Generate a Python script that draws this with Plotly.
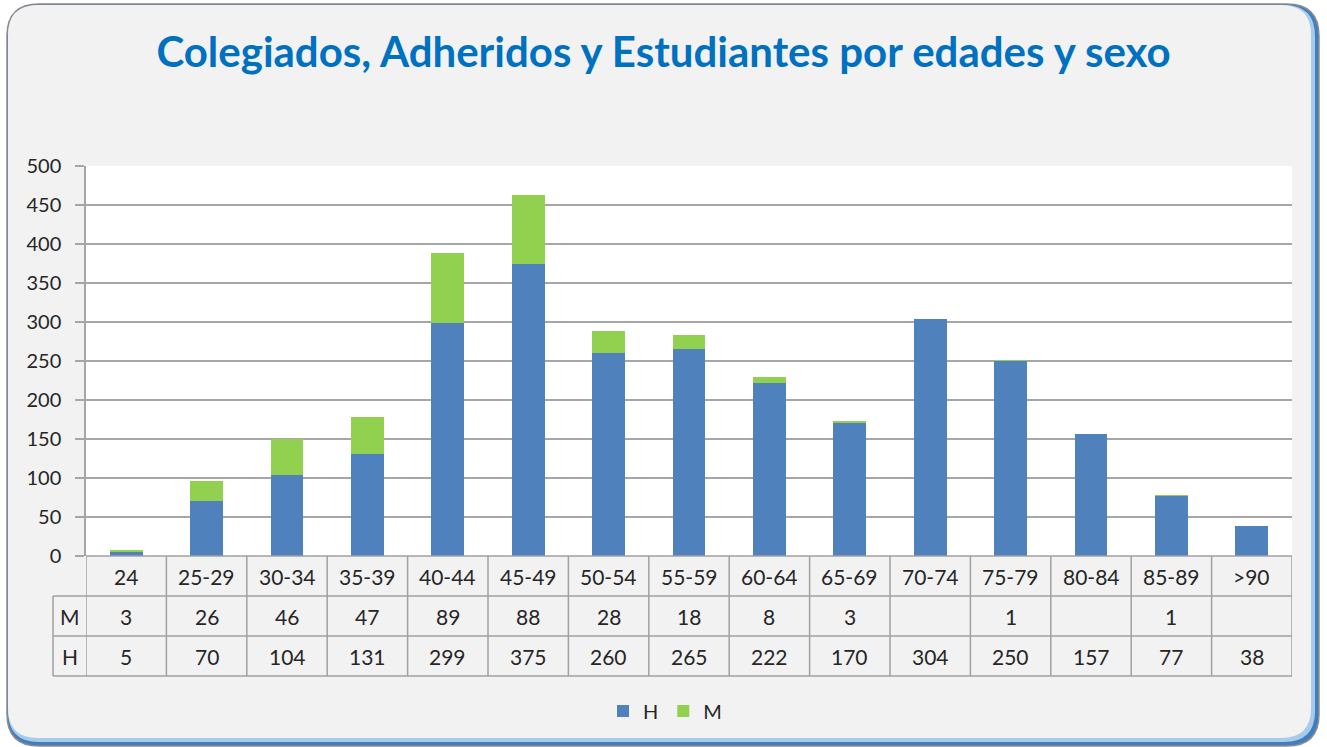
import plotly.graph_objects as go

categories = ["24", "25-29", "30-34", "35-39", "40-44", "45-49", "50-54", "55-59",
              "60-64", "65-69", "70-74", "75-79", "80-84", "85-89", ">90"]
H_values = [5, 70, 104, 131, 299, 375, 260, 265, 222, 170, 304, 250, 157, 77, 38]
M_values = [3, 26, 46, 47, 89, 88, 28, 18, 8, 3, None, 1, None, 1, None]
y_ticks = [0, 50, 100, 150, 200, 250, 300, 350, 400, 450, 500]
title_text = "Colegiados, Adheridos y Estudiantes por edades y sexo"

W, HGT = 1327, 747
L, R, T, B = 86, 1292, 166, 556

def X(p):
    return (p - L) / (R - L)

def Y(p):
    return (B - p) / (B - T)

def rrect(x0, y0, x1, y1, r):
    return (f"M {X(x0+r)},{Y(y0)} L {X(x1-r)},{Y(y0)} Q {X(x1)},{Y(y0)} {X(x1)},{Y(y0+r)} "
            f"L {X(x1)},{Y(y1-r)} Q {X(x1)},{Y(y1)} {X(x1-r)},{Y(y1)} "
            f"L {X(x0+r)},{Y(y1)} Q {X(x0)},{Y(y1)} {X(x0)},{Y(y1-r)} "
            f"L {X(x0)},{Y(y0+r)} Q {X(x0)},{Y(y0)} {X(x0+r)},{Y(y0)} Z")

BLUE = "#4F81BD"
GREEN = "#92D050"
TXT = "#262626"
GRID = "#A6A6A6"
FONT = "Lato"

fig = go.Figure()
fig.add_trace(go.Bar(name="H", x=categories, y=H_values, marker_color=BLUE,
                     marker_line_width=0))
fig.add_trace(go.Bar(name="M", x=categories, y=M_values, marker_color=GREEN,
                     marker_line_width=0))

shapes = []
# frame: blue shadow + gray panel
shapes.append(dict(type="path", xref="paper", yref="paper", layer="below",
                   path=rrect(7, 4, 1319, 746, 32), fillcolor="#3F7FC0",
                   line=dict(color="#8C8C8C", width=1.5)))
shapes.append(dict(type="path", xref="paper", yref="paper", layer="below",
                   path=rrect(8, 5, 1315, 742, 31), fillcolor="#A9CBEA",
                   line=dict(width=0)))
shapes.append(dict(type="path", xref="paper", yref="paper", layer="below",
                   path=rrect(8, 5, 1311, 738, 30), fillcolor="#F2F2F2",
                   line=dict(width=0)))
# plot area white
shapes.append(dict(type="rect", xref="paper", yref="paper", layer="below",
                   x0=0, x1=1, y0=0, y1=1, fillcolor="white", line=dict(width=0)))

# table lines
tcol = "#A0A0A0"
row_y = [556, 596, 636, 676]
for i, yy in enumerate(row_y):
    x0 = X(86) if i == 0 else X(53)
    shapes.append(dict(type="line", xref="paper", yref="paper", x0=x0, x1=1,
                       y0=Y(yy), y1=Y(yy), line=dict(color=tcol, width=1.5)))
for k in range(len(categories) + 1):
    shapes.append(dict(type="line", xref="x", yref="paper", x0=k - 0.5, x1=k - 0.5,
                       y0=Y(556), y1=Y(676), line=dict(color=tcol, width=1.5)))
shapes.append(dict(type="line", xref="paper", yref="paper", x0=X(53), x1=X(53),
                   y0=Y(596), y1=Y(676), line=dict(color=tcol, width=1.5)))

annotations = []
tfont = dict(family=FONT, size=21, color=TXT)
for i, c in enumerate(categories):
    mv = M_values[i]
    for txt, yy in [(c, 576), ("" if mv is None else str(mv), 616), (str(H_values[i]), 656)]:
        annotations.append(dict(xref="x", yref="paper", x=i, y=Y(yy), text=txt,
                                xanchor="center", yanchor="middle",
                                showarrow=False, font=tfont))
for lab, yy in [("M", 616), ("H", 656)]:
    annotations.append(dict(xref="paper", yref="paper", x=X(69.5), y=Y(yy), text=lab,
                            xanchor="center", yanchor="middle",
                            showarrow=False, font=tfont))

fig.update_layout(
    width=W, height=HGT,
    margin=dict(l=L, r=W - R, t=T, b=HGT - B, pad=0),
    paper_bgcolor="white",
    plot_bgcolor="rgba(0,0,0,0)",
    barmode="stack",
    bargap=0.59,
    title=dict(text=f"<b>{title_text}</b>", x=0.5, xanchor="center", xref="container",
               y=1 - 52 / HGT, yanchor="middle", yref="container",
               font=dict(family=FONT, size=42, color="#0070C0")),
    xaxis=dict(type="category", range=[-0.5, len(categories) - 0.5], showticklabels=False,
               showgrid=False, zeroline=False, showline=False, ticks=""),
    yaxis=dict(range=[0, 500], tickvals=y_ticks, showgrid=True, gridcolor=GRID,
               gridwidth=1.5, zeroline=False, showline=True, linecolor=GRID, linewidth=1.5,
               ticks="outside", ticklen=9, tickcolor=GRID, tickwidth=1.5,
               tickfont=dict(family=FONT, size=20, color=TXT), ticklabelstandoff=10),
    showlegend=True,
    legend=dict(orientation="h", x=X(665), xanchor="center", y=Y(711), yanchor="middle",
                font=dict(family=FONT, size=20, color=TXT), bgcolor="rgba(0,0,0,0)",
                itemwidth=30, traceorder="normal"),
    shapes=shapes,
    annotations=annotations,
)

fig.write_html("out.html", config={"displayModeBar": False},
               post_script="document.body.style.margin='0';")
